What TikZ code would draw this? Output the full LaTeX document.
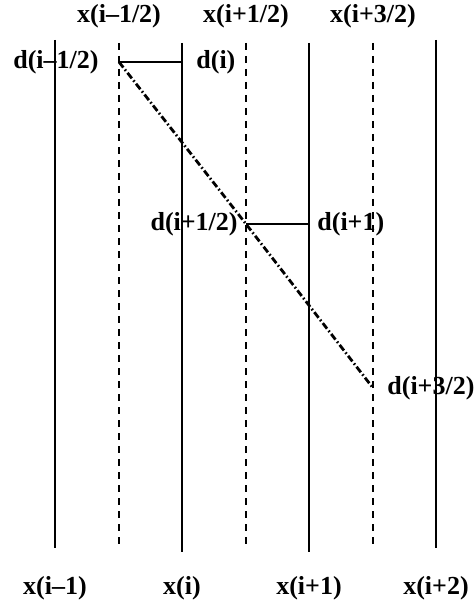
\documentclass[tikz,border=0pt]{standalone}
\usepackage{fontspec}
\setmainfont{Liberation Serif}
\usetikzlibrary{positioning}

\begin{document}
\begin{tikzpicture}[x=0.5pt,y=-0.5pt,
  grid/.style={line width=0.8pt},
  halfgrid/.style={line width=1pt, dash pattern=on 3.5pt off 3pt},
  slope/.style={line width=1.4pt, dash pattern=on 3.5pt off 1.3pt on 0.8pt off 1.3pt},
  lbl/.style={font=\fontsize{13}{15}\selectfont\bfseries, inner sep=0pt}]

\useasboundingbox (0,0) rectangle (475,604);

% full grid points
\coordinate (Ta) at (55,40);  \coordinate (Ba) at (55,548);
\coordinate (Tb) at (182,43); \coordinate (Bb) at (182,552);
\coordinate (Tc) at (309,43); \coordinate (Bc) at (309,552);
\coordinate (Td) at (436,40); \coordinate (Bd) at (436,548);

% half grid points
\coordinate (Th1) at (119,43); \coordinate (Bh1) at (119,544);
\coordinate (Th2) at (246,43); \coordinate (Bh2) at (246,544);
\coordinate (Th3) at (373,43); \coordinate (Bh3) at (373,544);

\draw[grid] (Ta) -- (Ba);
\draw[grid] (Tb) -- (Bb);
\draw[grid] (Tc) -- (Bc);
\draw[grid] (Td) -- (Bd);

\draw[halfgrid] (Th1) -- (Bh1);
\draw[halfgrid] (Th2) -- (Bh2);
\draw[halfgrid] (Th3) -- (Bh3);

% values
\coordinate (Dh1) at (119,62);
\coordinate (D0) at (182,62);
\coordinate (Dh2) at (246,224);
\coordinate (D1) at (309,224);
\coordinate (Dh3) at (373,388);

\draw[grid] (Dh1) -- (D0);
\draw[grid] (Dh2) -- (D1);
\draw[slope] (Dh1) -- (Dh2) -- (Dh3);

% labels
\node[lbl, left=10pt of Dh1] (dh1) {d(i–1/2)};
\node[lbl, right=7pt of D0] (d0) {d(i)};
\node[lbl, left=4pt of Dh2] (dh2) {d(i+1/2)};
\node[lbl, right=4pt of D1] (d1) {d(i+1)};
\node[lbl, right=7pt of Dh3] (dh3) {d(i+3/2)};

\node[lbl] (xh1) at (119,16) {x(i–1/2)};
\node[lbl] (xh2) at (246,16) {x(i+1/2)};
\node[lbl] (xh3) at (373,16) {x(i+3/2)};

\node[lbl] (xa) at (55,588) {x(i–1)};
\node[lbl] (xb) at (182,588) {x(i)};
\node[lbl] (xc) at (309,588) {x(i+1)};
\node[lbl] (xd) at (436,588) {x(i+2)};

\end{tikzpicture}
\end{document}
